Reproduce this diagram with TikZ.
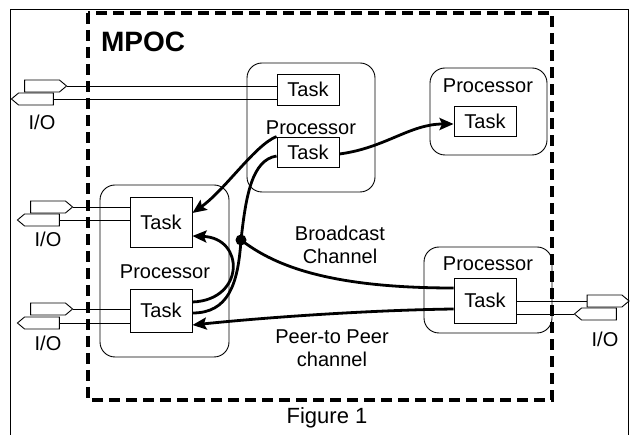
\documentclass[tikz,border=0pt]{standalone}
\usepackage{fontspec}
\setmainfont{Liberation Sans}
\usetikzlibrary{shapes.symbols,arrows.meta}

\begin{document}
\begin{tikzpicture}[x=1pt, y=-1pt,
  every node/.style={font=\fontsize{20}{23}\selectfont, text=black},
  proc/.style={draw, rounded corners=15pt, line width=0.9pt},
  task/.style={draw, line width=0.9pt, minimum width=62pt, inner sep=0pt},
  port/.style={draw, signal, line width=0.9pt, minimum width=42pt, minimum height=12pt, inner sep=0pt, signal pointer angle=80},
  chan/.style={line width=2.8pt},
  arr/.style={-{Stealth[length=14pt,width=12pt,inset=2.5pt]}}]

  \useasboundingbox (0,0) rectangle (632,435);

  % Outer frame and MPOC border
  \draw[line width=0.9pt] (10,436) |- (628,9) -- (628,436);
  \draw[line width=3.5pt, dash pattern=on 11pt off 6pt] (88,13) rectangle (552,400);
  \node[font=\fontsize{28}{30}\selectfont\bfseries] (mpoc) at (143,42) {MPOC};

  % Processors
  \node[proc, minimum width=128pt, minimum height=129pt] (procTop) at (311,127.5) {};
  \node[proc, minimum width=117pt, minimum height=87pt] (procRight) at (488.5,111.5) {};
  \node[proc, minimum width=129pt, minimum height=172pt] (procLeft) at (164.5,271) {};
  \node[proc, minimum width=128pt, minimum height=86pt] (procBot) at (488,290) {};

  \node (labTop) at (311,128) {Processor};
  \node (labRight) at (488,86) {Processor};
  \node (labLeft) at (165,272) {Processor};
  \node (labBot) at (488,264) {Processor};

  % Tasks
  \node[task, minimum height=31pt] (taskTopA) at (308,89.5) {Task};
  \node[task, minimum height=30pt] (taskTopB) at (308,152) {Task};
  \node[task, minimum height=30pt] (taskRight) at (485,121) {Task};
  \node[task, minimum height=50pt] (taskLeftA) at (161,222) {Task};
  \node[task, minimum height=43pt] (taskLeftB) at (161,310.5) {Task};
  \node[task, minimum height=45pt] (taskBot) at (485,300.5) {Task};

  % I/O ports
  \node[port, signal to=east] (outTop) at (42,86) {};
  \node[port, signal to=west] (inTop) at (36,99) {};
  \node[port, signal to=east] (outLeftA) at (48,207) {};
  \node[port, signal to=west] (inLeftA) at (42,220) {};
  \node[port, signal to=east] (outLeftB) at (48,309) {};
  \node[port, signal to=west] (inLeftB) at (42,323) {};
  \node[port, signal to=east] (outBot) at (604.5,301) {};
  \node[port, signal to=west] (inBot) at (599,314) {};

  \node (ioTop) at (42,122) {I/O};
  \node (ioLeftA) at (48,239) {I/O};
  \node (ioLeftB) at (48,343) {I/O};
  \node (ioBot) at (605,339) {I/O};

  \draw[line width=0.9pt] (outTop.east) -- (outTop.east -| taskTopA.west);
  \draw[line width=0.9pt] (inTop.east) -- (inTop.east -| taskTopA.west);
  \draw[line width=0.9pt] (outLeftA.east) -- (outLeftA.east -| taskLeftA.west);
  \draw[line width=0.9pt] (inLeftA.east) -- (inLeftA.east -| taskLeftA.west);
  \draw[line width=0.9pt] (outLeftB.east) -- (outLeftB.east -| taskLeftB.west);
  \draw[line width=0.9pt] (inLeftB.east) -- (inLeftB.east -| taskLeftB.west);
  \draw[line width=0.9pt] (outBot.west) -- (outBot.west -| taskBot.east);
  \draw[line width=0.9pt] (inBot.west) -- (inBot.west -| taskBot.east);

  % Channels
  \node[circle, fill, inner sep=0pt, minimum size=11pt] (bcast) at (241,240) {};

  \draw[chan, arr] ([yshift=-2pt]taskTopB.east) .. controls (385,148) and (410,124) .. ([yshift=-3pt]taskRight.west);
  \draw[chan, arr] (taskTopB.north west) .. controls (255,145) and (225,190) .. ([yshift=9pt]taskLeftA.east);
  \draw[chan] ([yshift=-4pt]taskTopB.west) .. controls (252,160) and (246,195) .. (bcast.center)
    .. controls (238,285) and (228,313) .. ([yshift=-2.5pt]taskLeftB.east);
  \draw[chan, arr] ([yshift=8.5pt]taskLeftB.east) .. controls (245,300) and (245,238) .. ([yshift=-14pt]taskLeftA.east);
  \draw[chan] (bcast.center) .. controls (270,262) and (320,288) .. ([yshift=12.5pt]taskBot.west);
  \draw[chan, arr] ([yshift=-8.5pt]taskBot.west) .. controls (380,310) and (280,316) .. ([yshift=-14.5pt]taskLeftB.east);

  % Channel labels
  \node[align=center] (lblBcast) at (340,244.5) {Broadcast\\Channel};
  \node[align=center] (lblPeer) at (332,348) {Peer-to Peer\\channel};

  \node[font=\fontsize{22}{24}\selectfont] (fig) at (327,418) {Figure 1};

\end{tikzpicture}
\end{document}
